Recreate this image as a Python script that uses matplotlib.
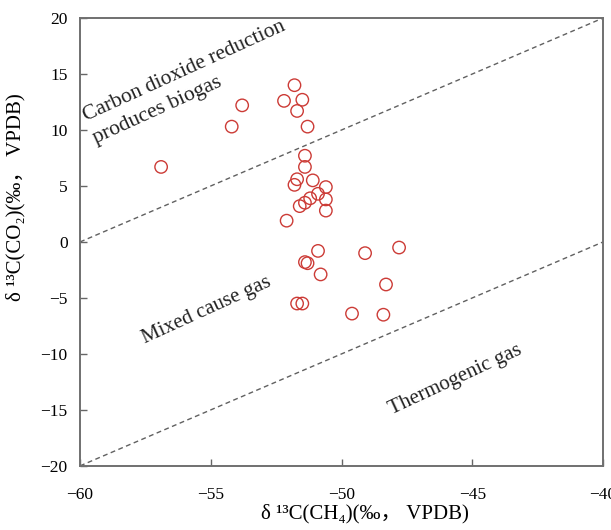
import numpy as np
import matplotlib
matplotlib.use("Agg")
from matplotlib import pyplot as plt

# d13C of CH4 and CO2 (permil, VPDB)
ch4 = [-56.9, -54.2, -53.8, -52.2, -51.8, -51.5, -51.7, -51.3, -51.4, -51.4,
       -51.7, -51.8, -51.1, -50.6, -50.9, -50.6, -51.2, -51.4, -51.6, -50.6,
       -52.1, -50.9, -49.1, -47.8, -51.4, -51.3, -50.8, -48.3, -51.7, -51.5,
       -49.6, -48.4]
co2 = [6.7, 10.3, 12.2, 12.6, 14.0, 12.7, 11.7, 10.3, 7.7, 6.7,
       5.6, 5.1, 5.5, 4.9, 4.3, 3.8, 3.9, 3.5, 3.2, 2.8,
       1.9, -0.8, -1.0, -0.5, -1.8, -1.9, -2.9, -3.8, -5.5, -5.5,
       -6.4, -6.5]

# boundary lines
upper_x = [-60, -40]
upper_y = [0, 20]
lower_x = [-60, -40]
lower_y = [-20, 0]

xticks = [-60, -55, -50, -45, -40]
yticks = [-20, -15, -10, -5, 0, 5, 10, 15, 20]

serif = ["Liberation Serif", "DejaVu Serif", "Noto Sans CJK SC"]
plt.rcParams["font.family"] = serif

fig = plt.figure(figsize=(6.11, 5.30), dpi=100)
ax = fig.add_axes([0.131, 0.121, 0.856, 0.845])

ax.plot(upper_x, upper_y, color="#606060", lw=1.0, ls=(0, (3.5, 2.5)))
ax.plot(lower_x, lower_y, color="#606060", lw=1.0, ls=(0, (3.5, 2.5)))
ax.scatter(ch4, co2, s=80, facecolors="none", edgecolors="#cc3b36", linewidths=1.0, zorder=3)

ax.set_xlim(-60, -40)
ax.set_ylim(-20, 20)
ax.set_xticks(xticks)
ax.set_yticks(yticks)
ax.set_xticklabels(["\u2212%d" % abs(v) for v in xticks])
ax.set_yticklabels([("\u2212%d" % abs(v)) if v < 0 else str(v) for v in yticks])
ax.tick_params(direction="in", length=5, width=1.0, color="#666666", labelsize=12.5)
ax.tick_params(axis="x", pad=15)
ax.tick_params(axis="y", pad=9)
for s in ax.spines.values():
    s.set_color("#707070")
    s.set_linewidth(1.4)

ax.set_xlabel("\u03b4 \u00b9\u00b3C(CH\u2084)(\u2030\uff0c VPDB)", fontsize=15, labelpad=1)
ax.xaxis.set_label_coords(0.545, -0.085)
ax.set_ylabel("\u03b4 \u00b9\u00b3C(CO\u2082)(\u2030\uff0c VPDB)", fontsize=15)
ax.yaxis.set_label_coords(-0.105, 0.6)

ax.text(-59.77, 10.8, "Carbon dioxide reduction", rotation=24.5, fontsize=15.5,
        color="#222222", ha="left", va="baseline", rotation_mode="anchor")
ax.text(-59.39, 8.84, "produces biogas", rotation=24.5, fontsize=15.5,
        color="#222222", ha="left", va="baseline", rotation_mode="anchor")
ax.text(-55.14, -6.07, "Mixed cause gas", rotation=24.5, fontsize=15, color="#222222",
        ha="center", va="center")
ax.text(-45.66, -12.3, "Thermogenic gas", rotation=25, fontsize=15, color="#222222",
        ha="center", va="center")

fig.savefig("out.png", dpi=100)
